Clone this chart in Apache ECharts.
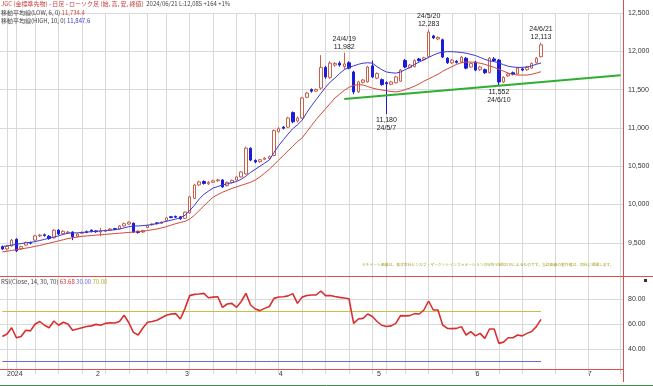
<!DOCTYPE html>
<html><head><meta charset="utf-8">
<script src="https://cdn.jsdelivr.net/npm/echarts@6/dist/echarts.min.js"></script>
<style>html,body{margin:0;padding:0;background:#fff}#c{width:653px;height:386px}</style>
</head><body><div id="c"></div>
<script>
// ---- categories ----
const tradeDates = ['2023-12-28',
'2024-01-04','2024-01-05','2024-01-09','2024-01-10','2024-01-11','2024-01-12','2024-01-15','2024-01-16','2024-01-17','2024-01-18','2024-01-19','2024-01-22','2024-01-23','2024-01-24','2024-01-25','2024-01-26','2024-01-29','2024-01-30','2024-01-31',
'2024-02-01','2024-02-02','2024-02-05','2024-02-06','2024-02-07','2024-02-08','2024-02-09','2024-02-13','2024-02-14','2024-02-15','2024-02-16','2024-02-19','2024-02-20','2024-02-21','2024-02-22','2024-02-26','2024-02-27','2024-02-28','2024-02-29',
'2024-03-01','2024-03-04','2024-03-05','2024-03-06','2024-03-07','2024-03-08','2024-03-11','2024-03-12','2024-03-13','2024-03-14','2024-03-15','2024-03-18','2024-03-19','2024-03-21','2024-03-22','2024-03-25','2024-03-26','2024-03-27','2024-03-28','2024-03-29',
'2024-04-01','2024-04-02','2024-04-03','2024-04-04','2024-04-05','2024-04-08','2024-04-09','2024-04-10','2024-04-11','2024-04-12','2024-04-15','2024-04-16','2024-04-17','2024-04-18','2024-04-19','2024-04-22','2024-04-23','2024-04-24','2024-04-25','2024-04-26','2024-04-30',
'2024-05-01','2024-05-02','2024-05-07','2024-05-08','2024-05-09','2024-05-10','2024-05-13','2024-05-14','2024-05-15','2024-05-16','2024-05-17','2024-05-20','2024-05-21','2024-05-22','2024-05-23','2024-05-24','2024-05-27','2024-05-28','2024-05-29','2024-05-30','2024-05-31',
'2024-06-03','2024-06-04','2024-06-05','2024-06-06','2024-06-07','2024-06-10','2024-06-11','2024-06-12','2024-06-13','2024-06-14','2024-06-17','2024-06-18','2024-06-19','2024-06-20','2024-06-21'];
const futureDates = ['2024-06-22','2024-06-23','2024-06-24','2024-06-25','2024-06-26','2024-06-27','2024-06-28','2024-06-29','2024-06-30',
'2024-07-01','2024-07-02','2024-07-03','2024-07-04','2024-07-05','2024-07-06','2024-07-07','2024-07-08'];

// ---- OHLC ----
const openP = [9450,9420,9460,9545,9420,9470,9505,9535,9590,9605,9585,9565,9665,9620,9630,9640,9585,9625,9645,9665,
9655,9640,9650,9665,9685,9680,9720,9745,9755,9650,9640,9700,9735,9760,9755,9790,9840,9845,9840,
9820,9890,10080,10255,10300,10270,10290,10310,10320,10245,10285,10320,10360,10400,10735,10575,10560,10590,10600,10640,
10950,11010,11010,11200,11090,11130,11400,11500,11480,11520,11790,11660,11820,11845,11800,11850,11730,11470,11595,11600,11810,
11650,11630,11590,11570,11590,11610,11880,11790,11800,11900,11890,11930,12200,12160,12150,11910,11850,11870,11860,11910,11795,
11860,11760,11760,11720,11900,11885,11600,11680,11720,11705,11770,11760,11780,11850,11930];
const closeP = [9420,9455,9535,9395,9450,9505,9495,9590,9600,9595,9555,9665,9615,9650,9640,9580,9615,9635,9635,9650,
9645,9655,9660,9680,9675,9720,9750,9770,9640,9635,9660,9725,9745,9750,9770,9825,9830,9835,9815,
9900,10100,10255,10295,10275,10290,10310,10320,10230,10290,10315,10360,10425,10735,10580,10555,10585,10605,10625,10965,
10990,10995,11130,11080,11130,11390,11455,11480,11500,11790,11665,11845,11840,11820,11835,11780,11470,11600,11625,11795,11665,
11710,11565,11575,11600,11665,11755,11795,11820,11880,11880,11915,12250,12175,12180,11925,11850,11885,11855,11925,11780,11840,
11755,11795,11720,11910,11880,11600,11660,11705,11700,11780,11755,11790,11840,11910,12085];
const lowP = [9405,9400,9450,9380,9410,9460,9480,9525,9575,9580,9540,9555,9600,9605,9620,9535,9570,9615,9625,9635,
9630,9585,9640,9655,9665,9670,9710,9735,9630,9620,9630,9690,9725,9740,9745,9780,9820,9825,9800,
9810,9880,10070,10240,10260,10255,10280,10295,10215,10235,10275,10310,10350,10390,10565,10540,10545,10580,10590,10630,
10940,10980,11000,11060,11070,11120,11390,11460,11470,11500,11640,11640,11800,11800,11770,11765,11440,11455,11580,11590,11650,
11635,11550,11180,11555,11580,11600,11780,11775,11790,11865,11880,11920,12160,12145,11910,11835,11835,11840,11850,11765,11785,
11740,11745,11705,11710,11860,11552,11585,11665,11685,11695,11740,11745,11770,11840,11920];
const highP = [9465,9470,9550,9560,9465,9515,9515,9605,9615,9620,9600,9680,9680,9665,9655,9650,9625,9650,9660,9675,
9665,9695,9675,9690,9695,9730,9765,9780,9765,9660,9670,9735,9755,9770,9780,9835,9850,9855,9850,
9910,10115,10270,10310,10315,10305,10325,10335,10330,10300,10325,10370,10435,10755,10745,10590,10595,10620,10640,10980,
11010,11025,11145,11215,11150,11405,11470,11515,11515,11950,11810,11870,11860,11870,11982,11870,11745,11615,11640,11810,11880,
11725,11645,11610,11615,11680,11770,11900,11835,11895,11915,11930,12283,12215,12195,12165,11925,11900,11885,11940,11925,11855,
11875,11810,11775,11925,11925,11900,11675,11720,11735,11795,11785,11805,11855,11925,12113];

// ---- moving averages ----
const maBlue = [9450,9460,9470,9480,9490,9500,9505,9515,9530,9545,9560,9575,9590,9610,9625,9630,9630,9635,9640,9645,
9650,9655,9660,9665,9670,9680,9695,9710,9720,9720,9725,9730,9740,9750,9765,9780,9795,9810,9825,
9860,9920,9990,10070,10130,10175,10215,10235,10255,10270,10285,10300,10330,10370,10420,10460,10500,10540,10580,10680,
10770,10845,10920,10990,11040,11100,11200,11290,11370,11450,11530,11600,11650,11710,11760,11790,11810,11830,11845,11850,11845,
11800,11760,11730,11720,11715,11730,11760,11790,11830,11860,11890,11920,11950,11975,11990,11995,11995,11990,11985,11975,11960,
11945,11920,11895,11875,11865,11850,11825,11805,11795,11790,11790,11795,11810,11830,11848];
const maRed = [9380,9390,9400,9410,9420,9430,9440,9455,9465,9480,9495,9510,9525,9540,9555,9565,9575,9585,9590,9595,
9600,9605,9610,9615,9620,9625,9630,9635,9640,9645,9650,9660,9670,9680,9695,9710,9730,9750,9765,
9780,9810,9860,9920,9980,10040,10095,10130,10160,10185,10210,10230,10250,10270,10290,10320,10360,10410,10460,10520,
10580,10640,10700,10760,10820,10870,10950,11030,11110,11180,11250,11320,11390,11440,11490,11530,11555,11565,11560,11540,11520,
11505,11495,11485,11475,11470,11480,11500,11520,11545,11575,11610,11640,11670,11700,11740,11770,11800,11830,11850,11860,11860,
11855,11845,11830,11810,11790,11765,11740,11715,11700,11690,11690,11690,11700,11715,11734];

// ---- RSI ----
const rsi = [50,52,57,49,50,55,54.5,60,62,59,57,62.4,59,61.4,60,55,56,57,58,58.5,
59.7,59,60.5,61,60.8,62,67,61,53.3,51.2,56.8,61.4,62,63,65,67,68,68.3,64,
72.5,82.7,83.7,84,84.5,81,81.5,81.8,73.3,76,76.5,73.3,78,84.5,75.2,72,70.7,72.5,74,80.5,
81.6,81.8,82.5,84.3,76.5,81.5,82.8,83.2,83.2,86.4,82.7,82.8,82,81.3,80.8,80.2,60.5,64,64.5,68,66,
62,59,58,58.5,60.5,66.7,66.5,66.7,68.3,68,71.2,78.4,71.2,71.2,59.2,56.5,56.3,56.5,57.9,51.2,53.9,
50.5,52.5,48.5,56,56,44.5,45.5,49,49,51.2,50.5,52.5,54,57.9,63.7];

// ---- annotations / reference values ----
const annotations = [
  {date:'2024-04-19', value:11982, text:'24/4/19\n11,982', pos:'top'},
  {date:'2024-05-20', value:12283, text:'24/5/20\n12,283', pos:'top'},
  {date:'2024-06-21', value:12113, text:'24/6/21\n12,113', pos:'top'},
  {date:'2024-05-07', value:11180, text:'11,180\n24/5/7', pos:'bottom'},
  {date:'2024-06-10', value:11552, text:'11,552\n24/6/10', pos:'bottom'}
];
const lastPrice = 12085;
const trendStart = ['2024-04-19', 11378];
const trendEnd = ['2024-07-08', 11686];
const rsiUpper = 70, rsiLower = 30;

// ---- build ----
const cats = tradeDates.concat(futureDates);
const candles = openP.map((o,i)=>[o, closeP[i], lowP[i], highP[i]]);
const DAY = 86400000;
const ymd = s => Date.UTC(+s.slice(0,4), +s.slice(5,7)-1, +s.slice(8,10));
const weekOf = s => Math.floor((ymd(s) - Date.UTC(2023,11,25)) / (7*DAY));
// index of the first category in each new week; grid line sits on the band's left boundary
const weekStartIdx = cats.map((c,i)=> (i>0 && weekOf(c) !== weekOf(cats[i-1])) ? i : -1).filter(i=>i>=0);
const monthStart = (i) => i>0 && cats[i].slice(5,7) !== cats[i-1].slice(5,7);
const fmtNum = v => v.toLocaleString('en-US');
const NUMFONT = "'Liberation Sans', Arial, sans-serif";
const JPFONT = "'Noto Sans CJK JP', sans-serif";
const gridCol = '#d9d9d9';
const weekLines = () => weekStartIdx.map(i => ({xAxis: i - 0.5}));

const gridSeries = (xi) => ({type:'line', xAxisIndex:xi, yAxisIndex:xi, data:[], silent:true, z:1,
  markLine:{silent:true, z:1, symbol:['none','none'], label:{show:false},
    lineStyle:{color:gridCol, width:1, type:'solid'}, data:weekLines()}});
const hLineSeries = (val, color) => ({type:'line', xAxisIndex:1, yAxisIndex:1, data:[], silent:true, z:3,
  markLine:{silent:true, z:3, symbol:['none','none'], label:{show:false},
    lineStyle:{color:color, width:1, type:'solid'},
    data:[[{coord:[tradeDates[0], val]}, {coord:[tradeDates[tradeDates.length-1], val]}]]}});

const chart = echarts.init(document.getElementById('c'), null, {renderer:'canvas'});
chart.setOption({
  animation:false,
  backgroundColor:'#ffffff',
  grid:[
    {left:0, right:30, top:13, height:268.1},
    {left:0, right:30, top:274, height:100}
  ],
  xAxis:[
    {type:'category', gridIndex:0, data:cats, boundaryGap:true,
     axisLine:{show:false}, axisTick:{show:false}, axisLabel:{show:false}, splitLine:{show:false}},
    {type:'category', gridIndex:1, data:cats, boundaryGap:true,
     axisLine:{show:false}, axisTick:{show:false},
     axisLabel:{show:true, interval:monthStart, margin:-3, fontSize:7, color:'#333', fontFamily:NUMFONT, align:'left',
       formatter:(v)=>{const m=+v.slice(5,7); return m===1 ? v.slice(0,4) : String(m);}},
     splitLine:{show:false}}
  ],
  yAxis:[
    {type:'value', gridIndex:0, position:'right', min:9000, max:12500, interval:500,
     axisLine:{show:false}, axisTick:{show:false},
     axisLabel:{showMinLabel:false, fontSize:7, color:'#333', margin:5, fontFamily:NUMFONT, formatter:fmtNum},
     splitLine:{show:true, showMinLine:false, lineStyle:{color:gridCol, width:1}}},
    {type:'value', gridIndex:1, position:'right', min:20, max:100, interval:20,
     axisLine:{show:false}, axisTick:{show:false},
     axisLabel:{showMinLabel:false, showMaxLabel:false, fontSize:7, color:'#333', margin:5, fontFamily:NUMFONT, formatter:v=>v.toFixed(2)},
     splitLine:{show:true, showMinLine:false, showMaxLine:false, lineStyle:{color:gridCol, width:1}}}
  ],
  series:[
    gridSeries(0),
    gridSeries(1),
    {type:'candlestick', xAxisIndex:0, yAxisIndex:0, data:candles, barWidth:3, z:4,
     itemStyle:{color:'#ffffff', color0:'#1c1cd8', borderColor:'#c8604c', borderColor0:'#1c1cd8', borderWidth:1},
     markPoint:{symbol:'circle', symbolSize:0, silent:true,
       label:{show:true, color:'#222', fontSize:7, lineHeight:8, fontFamily:NUMFONT, distance:2},
       data:annotations.map(a=>({coord:[a.date, a.value], value:a.value,
         label:{position:a.pos, formatter:a.text}}))},
     markLine:{silent:true, symbol:['none','none'], animation:false,
       data:[
         [{coord:trendStart, lineStyle:{color:'#2fae2f', width:2, type:'solid'}, label:{show:false}},
          {coord:trendEnd, lineStyle:{color:'#2fae2f', width:2, type:'solid'}, label:{show:false}}],
         {yAxis:lastPrice, lineStyle:{opacity:0}, label:{show:true, position:'end', distance:3, formatter:fmtNum(lastPrice),
           color:'#fff', backgroundColor:'#e52222', padding:[1,2,1,2], fontSize:7, fontFamily:NUMFONT}}
       ]}},
    {type:'line', xAxisIndex:0, yAxisIndex:0, data:maBlue, symbol:'none', lineStyle:{color:'#3a3ad0', width:1}, z:5},
    {type:'line', xAxisIndex:0, yAxisIndex:0, data:maRed, symbol:'none', lineStyle:{color:'#d04a3a', width:1}, z:5},
    hLineSeries(rsiUpper, '#c8c040'),
    hLineSeries(rsiLower, '#6a6ad8'),
    {type:'line', xAxisIndex:1, yAxisIndex:1, data:rsi, symbol:'none', lineStyle:{color:'#d83030', width:1.6}, z:5}
  ],
  graphic:[
    {type:'line', shape:{x1:623.5, y1:0, x2:623.5, y2:382}, style:{stroke:'#d85050', lineWidth:1}, z:10},
    {type:'line', shape:{x1:0, y1:276.5, x2:653, y2:276.5}, style:{stroke:'#d85050', lineWidth:1}, z:10},
    {type:'line', shape:{x1:0, y1:369.5, x2:623, y2:369.5}, style:{stroke:'#d85050', lineWidth:1}, z:10},
    {type:'line', shape:{x1:0, y1:385.5, x2:653, y2:385.5}, style:{stroke:'#3c8c46', lineWidth:1}, z:10},
    {type:'text', left:1, top:1, z:10, style:{
      text:'{r|JGC (金標準先物) - 日足 - ローソク足 (始, 高, 安, 終値)}{k|  2024/06/21 L:12,085 +164 +1%}',
      rich:{r:{fill:'#c83c3c', fontSize:6, fontFamily:JPFONT}, k:{fill:'#444', fontSize:6, fontFamily:JPFONT}}}},
    {type:'text', left:1, top:10, z:10, style:{
      text:'{k|移動平均線(LOW, 6, 0) }{r|11,734.4}',
      rich:{r:{fill:'#d04a3a', fontSize:6, fontFamily:JPFONT}, k:{fill:'#444', fontSize:6, fontFamily:JPFONT}}}},
    {type:'text', left:1, top:18, z:10, style:{
      text:'{k|移動平均線(HIGH, 10, 0) }{b|11,847.6}',
      rich:{b:{fill:'#3a3ad0', fontSize:6, fontFamily:JPFONT}, k:{fill:'#444', fontSize:6, fontFamily:JPFONT}}}},
    {type:'text', left:1, top:279, z:10, style:{
      text:'{k|RSI(Close, 14, 30, 70) }{r|63.68 }{b|30.00 }{y|70.00}',
      rich:{k:{fill:'#444', fontSize:6, fontFamily:JPFONT}, r:{fill:'#d83030', fontSize:6, fontFamily:JPFONT},
            b:{fill:'#6a6ad8', fontSize:6, fontFamily:JPFONT}, y:{fill:'#b8b030', fontSize:6, fontFamily:JPFONT}}}},
    {type:'text', left:362, top:263, z:10, style:{
      text:'※チャート画像は、株式会社ヒンカブ・マーケットインフォメーションのWin-Station IVによるものです。当該画像の著作権は、同社に帰属します。',
      fill:'#a0a028', fontSize:3.8, fontFamily:JPFONT}},
    {type:'rect', shape:{x:644, y:279, width:3, height:3}, style:{fill:'#333'}, z:10}
  ]
});
</script></body></html>
